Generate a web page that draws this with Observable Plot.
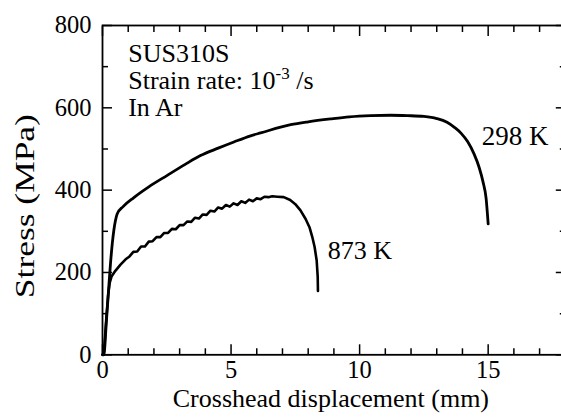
<!DOCTYPE html>
<html><head><meta charset="utf-8">
<script src="https://cdn.jsdelivr.net/npm/d3@7"></script>
<script src="https://cdn.jsdelivr.net/npm/@observablehq/plot@0.6"></script>
<style>html,body{margin:0;padding:0;background:#fff;overflow:hidden}</style>
</head><body><div id="chart"></div>
<script>
// 298 K curve: crosshead displacement (mm) and stress (MPa)
const x298 = [0, 0.05, 0.15, 0.25, 0.31, 0.38, 0.44, 0.5, 0.57, 0.8, 1.22, 1.8, 2.52, 3.2, 3.81, 4.5, 5.11, 5.76, 6.15, 7.32, 8.0, 8.87, 9.6, 10.43, 11.2, 11.86, 12.5, 13.0, 13.4, 13.7, 13.95, 14.2, 14.45, 14.65, 14.8, 14.92, 15.0];
const s298 = [0, 0, 80, 170, 221, 270, 302, 325, 342, 360, 382, 408, 436, 462, 484, 502, 517, 532, 539, 559, 566, 573, 578, 581, 582, 581, 579, 574, 565, 552, 538, 518, 488, 455, 420, 380, 318];
// 873 K curve
const x873 = [0, 0.05, 0.15, 0.22, 0.28, 0.35, 0.5, 0.7, 0.9, 1.05, 1.2, 1.35, 1.5, 1.65, 1.8, 1.95, 2.1, 2.25, 2.4, 2.55, 2.7, 2.85, 3.0, 3.15, 3.3, 3.45, 3.6, 3.75, 3.9, 4.05, 4.2, 4.35, 4.5, 4.65, 4.8, 4.95, 5.1, 5.25, 5.4, 5.55, 5.7, 5.85, 6.0, 6.15, 6.3, 6.45, 6.6, 6.8, 7.05, 7.3, 7.5, 7.7, 7.9, 8.05, 8.16, 8.25, 8.33, 8.37, 8.38];
const s873 = [0, 0, 90, 145, 175, 190, 204, 219, 232, 239, 250, 251, 263, 263, 275, 276, 286, 286, 296, 296, 306, 305, 315, 315, 324, 323, 333, 331, 341, 340, 350, 348, 358, 355, 364, 360, 368, 364, 373, 369, 377, 373, 380, 378, 384, 383, 385, 384, 383, 376, 366, 351, 330, 310, 286, 262, 229, 190, 155];
// axis ticks
const xMajor = [0, 5, 10, 15];
const xMinor = [1, 2, 3, 4, 6, 7, 8, 9, 11, 12, 13, 14, 16, 17];
const yMajor = [0, 200, 400, 600, 800];
const yMinor = [100, 300, 500, 700];
const curveLabels = ["298 K", "873 K"];

const d298 = x298.map((x, i) => ({x, y: s298[i]}));
const d873 = x873.map((x, i) => ({x, y: s873[i]}));

const tk = {label: null, fill: "none", stroke: "#000", strokeWidth: 1.5};
const chart = Plot.plot({
  width: 561, height: 419,
  marginLeft: 102, marginRight: -3.8, marginTop: 25, marginBottom: 64.7,
  x: {domain: [0, 18]},
  y: {domain: [0, 800]},
  style: {fontFamily: "'Liberation Serif', 'Times New Roman', serif", fontSize: "26px", color: "#000", background: "#fff"},
  marks: [
    Plot.axisX(xMajor, {anchor: "bottom", tickSize: 10, insetBottom: 10, ...tk}),
    Plot.axisX(xMinor, {anchor: "bottom", tickSize: 6, insetBottom: 6, ...tk}),
    Plot.axisX(xMajor, {anchor: "top", tickSize: 10, insetTop: 10, ...tk}),
    Plot.axisX(xMinor, {anchor: "top", tickSize: 6, insetTop: 6, ...tk}),
    Plot.axisY(yMajor, {anchor: "left", tickSize: 10, insetLeft: 10, ...tk}),
    Plot.axisY(yMinor, {anchor: "left", tickSize: 6, insetLeft: 6, ...tk}),
    Plot.axisY(yMajor, {anchor: "right", tickSize: 10, insetRight: 10, ...tk}),
    Plot.axisY(yMinor, {anchor: "right", tickSize: 6, insetRight: 6, ...tk}),
    Plot.axisX(xMajor, {anchor: "bottom", tickSize: 0, tickPadding: 5.5, label: null, fontSize: 24.5, fill: "#000"}),
    Plot.axisY(yMajor, {anchor: "left", tickSize: 0, tickPadding: 11, label: null, fontSize: 24.5, fill: "#000"}),
    Plot.frame({stroke: "#000", strokeWidth: 1.8}),
    Plot.line(d298, {x: "x", y: "y", stroke: "#000", strokeWidth: 2.8, curve: "monotone-x"}),
    Plot.line(d873, {x: "x", y: "y", stroke: "#000", strokeWidth: 2.6, curve: "linear"}),
    Plot.text([curveLabels[0]], {x: 14.75, y: 531, textAnchor: "start", fontSize: 27, fill: "#000"}),
    Plot.text([curveLabels[1]], {x: 8.76, y: 253, textAnchor: "start", fontSize: 26, fill: "#000"}),
    Plot.text(["SUS310S"], {x: 1.0, y: 731, textAnchor: "start", fontSize: 26, fill: "#000"}),
    Plot.text(["Strain rate: 10"], {x: 1.0, y: 666, textAnchor: "start", fontSize: 26, fill: "#000"}),
    Plot.text(["In Ar"], {x: 1.0, y: 601, textAnchor: "start", fontSize: 26, fill: "#000"}),
    Plot.text(["Crosshead displacement (mm)"], {frameAnchor: "bottom", lineAnchor: "middle", textAnchor: "middle", dx: -3, dy: 43.4, fontSize: 26, fill: "#000"}),
    Plot.text(["Stress (MPa)"], {frameAnchor: "left", lineAnchor: "middle", textAnchor: "middle", dx: -77.6, dy: 16, rotate: -90, fontSize: 27, fill: "#000"})
  ]
});
document.getElementById("chart").append(chart);

const svg = d3.select(chart);
svg.selectAll("text").filter(function () { return this.textContent === "Strain rate: 10"; }).each(function () {
  const t = d3.select(this);
  t.append("tspan").attr("dy", -10).attr("font-size", 17).text("-3");
  t.append("tspan").attr("dy", 10).text(" /s");
});
svg.selectAll("text").filter(function () { return this.textContent === "Stress (MPa)"; })
  .attr("textLength", 184).attr("lengthAdjust", "spacingAndGlyphs");
</script>
</body></html>
